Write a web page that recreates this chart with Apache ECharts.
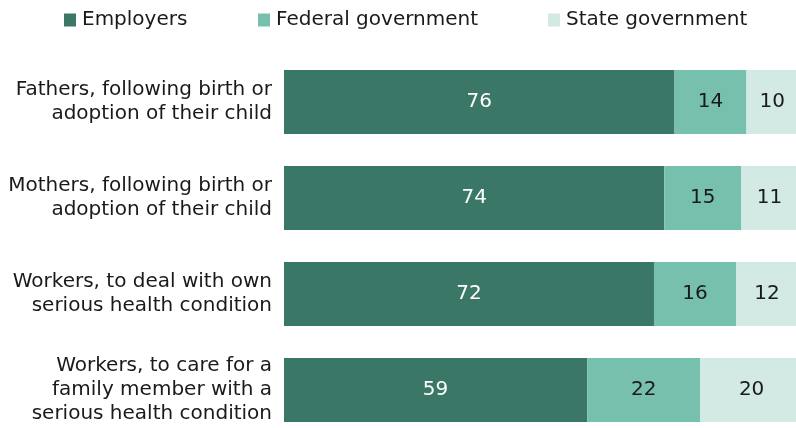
<!DOCTYPE html>
<html>
<head>
<meta charset="utf-8">
<script src="https://cdn.jsdelivr.net/npm/echarts@6/dist/echarts.min.js"></script>
<style>
  html, body { margin: 0; padding: 0; background: #fff; }
  #chart { width: 796px; height: 428px; }
</style>
</head>
<body>
<div id="chart"></div>
<script>
// Who should pay for paid leave, shares by group
const categories = [
  'Fathers, following birth or\nadoption of their child',
  'Mothers, following birth or\nadoption of their child',
  'Workers, to deal with own\nserious health condition',
  'Workers, to care for a\nfamily member with a\nserious health condition'
];
const employers = [76, 74, 72, 59];
const federal = [14, 15, 16, 22];
const state = [10, 11, 12, 20];

const seriesNames = ['Employers', 'Federal government', 'State government'];
const colors = ['#3a7767', '#78c0ae', '#d2e9e4'];
const labelColors = ['#ffffff', '#1a1a1a', '#1a1a1a'];

const chart = echarts.init(document.getElementById('chart'), null, { renderer: 'canvas' });

const legendX = [64, 258, 548];

const option = {
  animation: false,
  legend: seriesNames.map((n, i) => ({
    data: [n],
    left: legendX[i],
    top: 10,
    padding: 0,
    itemWidth: 12,
    itemHeight: 13,
    icon: 'rect',
    selectedMode: false,
    textStyle: { fontFamily: 'DejaVu Sans', fontSize: 20, color: '#1a1a1a', padding: [0, 0, 0, 1] }
  })),
  grid: { left: 284, right: -7, top: 54, bottom: -10, containLabel: false, outerBoundsMode: 'none' },
  xAxis: {
    type: 'value', min: 0, max: 101,
    show: false
  },
  yAxis: {
    type: 'category',
    inverse: true,
    data: categories,
    axisLine: { show: false },
    axisTick: { show: false },
    axisLabel: {
      margin: 12,
      fontFamily: 'DejaVu Sans',
      fontSize: 20,
      lineHeight: 24,
      color: '#1a1a1a',
      align: 'right',
      padding: [3, 0, 0, 0]
    }
  },
  series: [employers, federal, state].map((d, i) => ({
    name: seriesNames[i],
    type: 'bar',
    stack: 'total',
    data: d,
    barWidth: 64,
    clip: false,
    itemStyle: { color: colors[i] },
    label: {
      show: true,
      position: 'inside',
      fontFamily: 'DejaVu Sans',
      fontSize: 20,
      color: labelColors[i],
      padding: [2, 0, 0, 0]
    }
  }))
};
chart.setOption(option);
</script>
</body>
</html>
